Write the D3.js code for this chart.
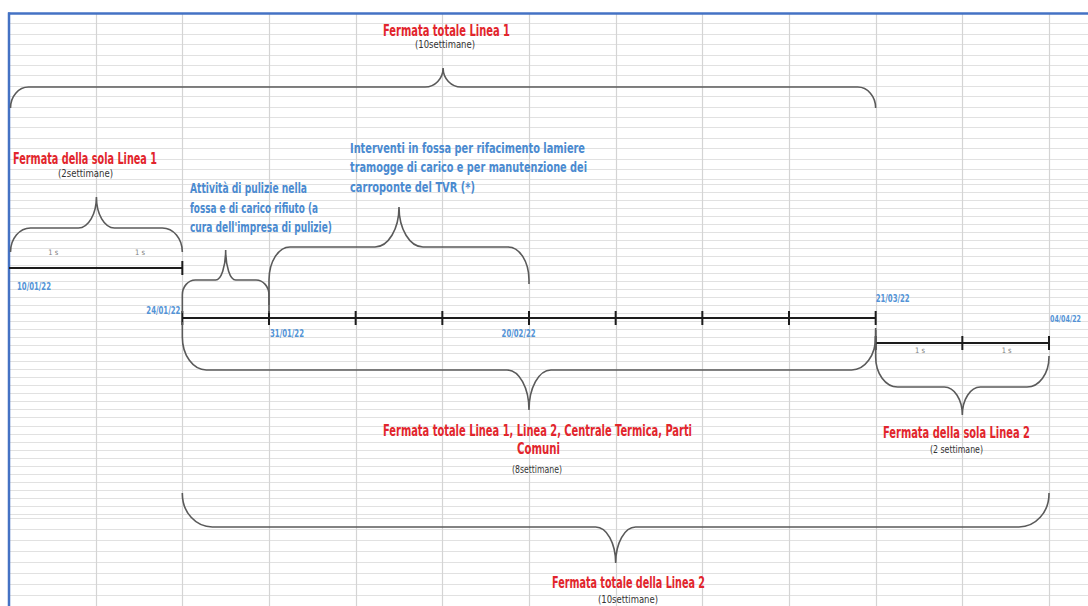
<!DOCTYPE html>
<html>
<head>
<meta charset="utf-8">
<script src="https://cdn.jsdelivr.net/npm/d3@7"></script>
<style>
  html, body { margin: 0; padding: 0; background: #fff; }
  svg { display: block; }
  text { font-family: "Liberation Sans Narrow", "DejaVu Sans Condensed", "Arial Narrow", sans-serif; }
</style>
</head>
<body>
<svg id="chart" width="1088" height="606"></svg>
<script>
// ---- Data -----------------------------------------------------------------
// Week columns of the plan (one column per week)
const weekDates = ["2022-01-10", "2022-01-17", "2022-01-24", "2022-01-31", "2022-02-07",
  "2022-02-14", "2022-02-21", "2022-02-28", "2022-03-07", "2022-03-14",
  "2022-03-21", "2022-03-28", "2022-04-04"];

// Timeline segments (line 1 only, both lines, line 2 only)
const segmentStart = ["2022-01-10", "2022-01-24", "2022-03-21"];
const segmentEnd   = ["2022-01-24", "2022-03-21", "2022-04-04"];

// Date labels on the timeline
const dateLabels     = ["10/01/22", "24/01/22", "31/01/22", "20/02/22", "21/03/22", "04/04/22"];
const dateLabelDates = ["2022-01-10", "2022-01-24", "2022-01-31", "2022-02-20", "2022-03-21", "2022-04-04"];

// "1 settimana" marks
const weekMarkDates = ["2022-01-10", "2022-01-17", "2022-03-21", "2022-03-28"];
const weekMarkText = "1 s";

// Stop periods, drawn as curly braces
const braceStart = ["2022-01-10", "2022-01-10", "2022-01-24", "2022-01-31", "2022-01-24", "2022-03-21", "2022-01-24"];
const braceEnd   = ["2022-03-21", "2022-01-24", "2022-01-31", "2022-02-21", "2022-03-21", "2022-04-04", "2022-04-04"];
const braceTitle = [
  ["Fermata totale Linea 1"],
  ["Fermata della sola Linea 1"],
  ["Attività di pulizie nella", "fossa e di carico rifiuto (a", "cura dell'impresa di pulizie)"],
  ["Interventi in fossa per rifacimento lamiere", "tramogge di carico e per manutenzione dei", "carroponte del TVR (*)"],
  ["Fermata totale Linea 1, Linea 2, Centrale Termica, Parti", "Comuni"],
  ["Fermata della sola Linea 2"],
  ["Fermata totale della Linea 2"]
];
const braceNote = ["(10settimane)", "(2settimane)", null, null, "(8settimane)", "(2 settimane)", "(10settimane)"];
const braceKind = ["stop", "stop", "work", "work", "stop", "stop", "stop"];

// ---- Layout ---------------------------------------------------------------
const W = 1088, H = 606;
const RED = "#e2252c", BLUE = "#4a8ad0", DATEBLUE = "#5393d6", INK = "#1c1c1c", BRACE = "#5a5a5a";
const parse = d3.utcParse("%Y-%m-%d");

const x = d3.scaleUtc()
  .domain([parse(weekDates[0]), parse(weekDates[weekDates.length - 1])])
  .range([9, 1049]);

const svg = d3.select("#chart");

// Spreadsheet grid
const gridRows = [];
for (let y = 23.4; y < 181; y += 10.4) gridRows.push(y);
for (let y = 184; y < 516; y += 8.05) gridRows.push(y);
for (let y = 518; y < H; y += 11) gridRows.push(y);

svg.append("g").selectAll("line").data(gridRows).join("line")
  .attr("x1", 9).attr("x2", W)
  .attr("y1", d => Math.round(d) + 0.5).attr("y2", d => Math.round(d) + 0.5)
  .attr("stroke", "#e1e1e1").attr("stroke-width", 1);

const colDates = weekDates.slice(1).map(parse);
svg.append("g").selectAll("line").data(colDates).join("line")
  .attr("x1", d => Math.round(x(d)) + 0.5).attr("x2", d => Math.round(x(d)) + 0.5)
  .attr("y1", 13).attr("y2", H)
  .attr("stroke", "#d4d4d4").attr("stroke-width", 1.2);

// Frame
svg.append("line").attr("x1", 8).attr("x2", W).attr("y1", 13.5).attr("y2", 13.5)
  .attr("stroke", "#4472c4").attr("stroke-width", 2.5);
svg.append("line").attr("x1", 9).attr("x2", 9).attr("y1", 12.5).attr("y2", H)
  .attr("stroke", "#4472c4").attr("stroke-width", 2.5);

// Timeline segments
const segY = [268, 318, 343];
const segTicks = [
  ["2022-01-24"],
  weekDates.slice(2, 11),
  weekDates.slice(10, 13)
];
const tl = svg.append("g");
segmentStart.forEach((s, i) => {
  tl.append("line")
    .attr("x1", x(parse(s))).attr("x2", x(parse(segmentEnd[i])))
    .attr("y1", segY[i]).attr("y2", segY[i])
    .attr("stroke", INK).attr("stroke-width", 2);
  tl.selectAll(null).data(segTicks[i].map(parse)).join("line")
    .attr("x1", d => x(d)).attr("x2", d => x(d))
    .attr("y1", segY[i] - 7).attr("y2", segY[i] + 7)
    .attr("stroke", INK).attr("stroke-width", 2);
});

// Curly brace path: ends at yEnd0/yEnd1, flat at yH, tip at yTip over the centre
function bracePath(x0, x1, yEnd0, yEnd1, yH, yTip, rx, ry, rc) {
  const k = 0.5523;
  const s = Math.sign(yEnd0 - yH);
  const xc = (x0 + x1) / 2;
  const p = d3.path();
  p.moveTo(x0, yEnd0);
  p.lineTo(x0, yH + s * ry);
  p.bezierCurveTo(x0, yH + s * ry * (1 - k), x0 + rx * (1 - k), yH, x0 + rx, yH);
  p.lineTo(xc - rc, yH);
  p.bezierCurveTo(xc - rc + k * rc, yH, xc, yTip + (yH - yTip) * k, xc, yTip);
  p.bezierCurveTo(xc, yTip + (yH - yTip) * k, xc + rc - k * rc, yH, xc + rc, yH);
  p.lineTo(x1 - rx, yH);
  p.bezierCurveTo(x1 - rx * (1 - k), yH, x1, yH + s * ry * (1 - k), x1, yH + s * ry);
  p.lineTo(x1, yEnd1);
  return p.toString();
}

const braceLayout = [
  { yEnd0: 108, yEnd1: 108, yH: 87,  yTip: 68,  rx: 18, ry: 21, rc: 18 },
  { yEnd0: 252, yEnd1: 252, yH: 228, yTip: 197, rx: 20, ry: 24, rc: 18 },
  { yEnd0: 313, yEnd1: 313, yH: 280, yTip: 250, rx: 13, ry: 15, rc: 10 },
  { yEnd0: 305, yEnd1: 284, yH: 247, yTip: 207, rx: 21, ry: 33, rc: 24 },
  { yEnd0: 322, yEnd1: 328, yH: 370, yTip: 410, rx: 24, ry: 33, rc: 22 },
  { yEnd0: 330, yEnd1: 356, yH: 387, yTip: 415, rx: 22, ry: 30, rc: 18 },
  { yEnd0: 493, yEnd1: 493, yH: 527, yTip: 563, rx: 30, ry: 33, rc: 20 }
];

svg.append("g").selectAll("path").data(braceStart).join("path")
  .attr("d", (s, i) => {
    const L = braceLayout[i];
    const x0 = Math.max(x(parse(s)), 10.5), x1 = x(parse(braceEnd[i]));
    return bracePath(x0, x1, L.yEnd0, L.yEnd1, L.yH, L.yTip, L.rx, L.ry, L.rc);
  })
  .attr("fill", "none").attr("stroke", BRACE).attr("stroke-width", 1.6);

// Text helper: fixed width so the condensed lettering fits its span
function label(g, str, x0, x1, baseline, size, color, weight) {
  g.append("text")
    .attr("x", x0).attr("y", baseline)
    .attr("textLength", x1 - x0).attr("lengthAdjust", "spacingAndGlyphs")
    .attr("font-size", size).attr("font-weight", weight || "normal")
    .attr("fill", color).text(str);
}

// Title / note placement for each brace: [x0, x1, baseline] per line
const titleLayout = [
  [[383, 510, 36]],
  [[13, 157, 164]],
  [[190, 307, 193], [190, 318, 213], [190, 332, 232]],
  [[350, 585, 153], [350, 587, 172], [350, 475, 192]],
  [[383, 692, 436], [517, 560, 454]],
  [[883, 1030, 438]],
  [[552, 705, 588]]
];
const noteLayout = [[415, 475, 48], [58, 113, 177], null, null, [512, 562, 473], [930, 983, 453], [598, 658, 603]];

const tg = svg.append("g");
braceTitle.forEach((lines, i) => {
  const stop = braceKind[i] === "stop";
  lines.forEach((str, j) => {
    const [a, b, y] = titleLayout[i][j];
    label(tg, str, a, b, y, stop ? 15 : 14.5, stop ? RED : BLUE, "bold");
  });
  if (braceNote[i]) {
    const [a, b, y] = noteLayout[i];
    label(tg, braceNote[i], a, b, y, 10.5, "#333");
  }
});

// Date labels: anchor offset from the date, baseline, width
const dateLayout = [
  { dx: 8,  anchor: "start", y: 290, w: 34 },
  { dx: -2, anchor: "end",   y: 314, w: 34 },
  { dx: 1,  anchor: "start", y: 337, w: 34 },
  { dx: -15, anchor: "start", y: 337, w: 34 },
  { dx: 0,  anchor: "start", y: 302, w: 34 },
  { dx: 32, anchor: "end",   y: 322, w: 31 }
];
svg.append("g").selectAll("text").data(dateLabels).join("text")
  .attr("x", (d, i) => x(parse(dateLabelDates[i])) + dateLayout[i].dx)
  .attr("y", (d, i) => dateLayout[i].y)
  .attr("text-anchor", (d, i) => dateLayout[i].anchor)
  .attr("textLength", (d, i) => dateLayout[i].w).attr("lengthAdjust", "spacingAndGlyphs")
  .attr("font-size", (d, i) => i === 5 ? 9.5 : 10).attr("font-weight", "bold")
  .attr("fill", DATEBLUE)
  .text(d => d);

// "1 s" marks in the middle of each single week
const weekMarkY = [255, 255, 353, 353];
svg.append("g").selectAll("text").data(weekMarkDates).join("text")
  .attr("x", d => {
    const a = parse(d);
    return (x(a) + x(d3.utcDay.offset(a, 7))) / 2 + 1;
  })
  .attr("y", (d, i) => weekMarkY[i])
  .attr("text-anchor", "middle")
  .attr("font-size", 7.5).attr("fill", "#808080")
  .text(weekMarkText);
</script>
</body>
</html>
